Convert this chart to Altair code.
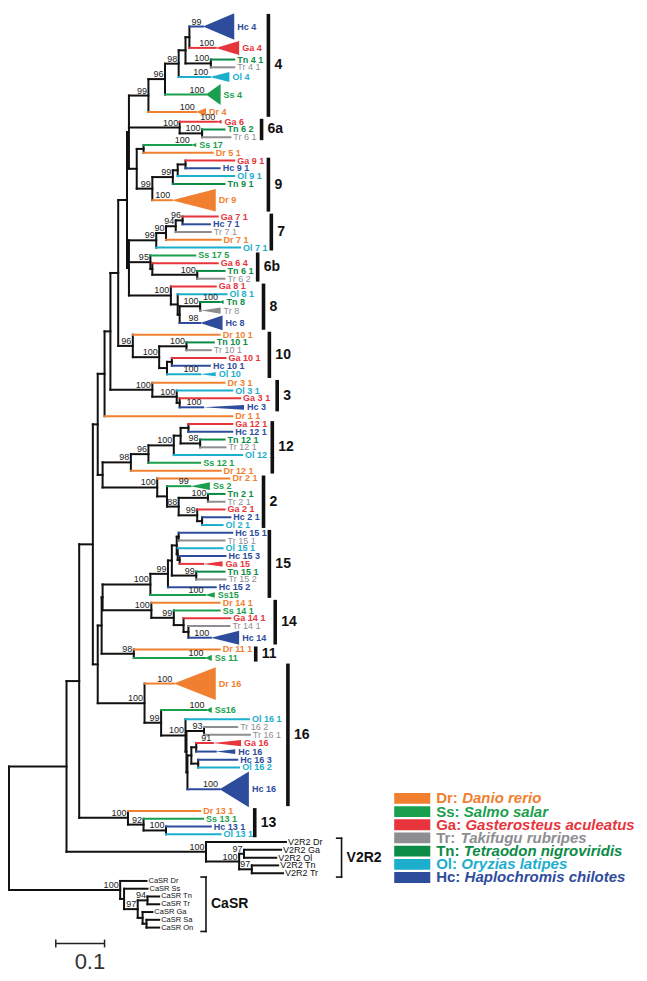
import altair as alt
import pandas as pd

# ---------------- tree data: Newick pieces (branch lengths in substitutions/site, node labels = bootstrap) -------------
clade4 = ("(((((Hc_4:0.028,Ga_4:0.054):0.008,(Tn_4_1:0.048,Tr_4_1:0.048)100:0.052):0.014,Ol_4:0.064)98:0.028,"
          "Ss_4:0.084)96:0.034,Dr_4:0.098)99:0.040")
clade6a = "(Ga_6:0.076,(Tn_6_2:0.046,Tr_6_1:0.058)100:0.046)100:0.104"
clade9 = ("((Ss_17:0.098,Dr_5_1:0.142):0.014,((((Ga_9_1:0.100,Hc_9_1:0.070):0.016,Ol_9_1:0.116):0.010,"
          "Tn_9_1:0.106)99:0.042,Dr_9:0.040)99:0.032):0.016")
clade7 = "((((Ga_7_1:0.072,Hc_7_1:0.056)96:0.014,Tr_7_1:0.072)94:0.020,Dr_7_1:0.112)90:0.020,Ol_7_1:0.172)99:0.056"
clade6b = "(Ss_17_5:0.092,(Ga_6_4:0.134,(Tn_6_1:0.056,Tr_6_2:0.056)100:0.092):0.004)95:0.044"
clade8 = "(Ga_8_1:0.092,(Ol_8_1:0.100,((Tn_8:0.040,Tr_8:0.002)100:0.042,Hc_8:0.042):0.004):0.014)100:0.086"
clade10 = ("(Dr_10_1:0.178,((Tn_10_1:0.056,Tr_10_1:0.050)100:0.056,((Ga_10_1:0.110,Hc_10_1:0.078):0.010,"
           "Ol_10:0.068):0.016)100:0.054)96:0.030")
clade3 = "(Dr_3_1:0.148,(Ol_3_1:0.114,(Ga_3_1:0.124,Hc_3:0.048):0.006)100:0.050)100:0.086"
clade12 = ("(((((Ga_12_1:0.090,Hc_12_1:0.090):0.016,(Tn_12_1:0.050,Tr_12_1:0.052)98:0.040):0.014,"
           "Ol_12_1:0.140)100:0.052,Ss_12_1:0.106)96:0.036,Dr_12_1:0.184)98:0.058")
clade2 = ("(Dr_2_1:0.148,(Ss_2:0.048,((Tn_2_1:0.034,Tr_2_1:0.034)100:0.060,(Ga_2_1:0.056,"
          "(Hc_2_1:0.058,Ol_2_1:0.042):0.010)99:0.038)88:0.024):0.020)100:0.112")
clade15 = ("(((((Hc_15_1:0.110,Tr_15_1:0.094):0.004,(Ol_15_1:0.092,(Hc_15_3:0.094,Ga_15:0.048):0.004):0.002):0.010,"
           "(Tn_15_1:0.058,Tr_15_2:0.060)99:0.050):0.008,Hc_15_2:0.098)99:0.036,Ss15:0.112)100:0.098")
clade14 = "(Dr_14_1:0.140,(Ss_14_1:0.094,(Ga_14_1:0.096,(Tr_14_1:0.084,Hc_14:0.046):0.010):0.020)99:0.046)100:0.100"
clade11 = "(Dr_11_1:0.176,Ss_11:0.146)98:0.066"
clade16 = ("(Dr_16:0.060,(Ss16:0.092,(Ol_16_1:0.130,((Tr_16_2:0.068,Tr_16_1:0.094)93:0.036,"
           "(((Ga_16:0.034,Hc_16#a:0.040):0.010,(Hc_16_3:0.080,Ol_16_2:0.084):0.014):0.008,"
           "Hc_16#b:0.066):0.002):0.002)100:0.050)99:0.034)100:0.096")
clade13 = "(Dr_13_1:0.148,(Ss_13_1:0.122,(Hc_13_1:0.092,Ol_13_1:0.112)100:0.046)92:0.032)100:0.100"
v2r2 = ("(V2R2_Dr:0.164,((V2R2_Ga:0.076,V2R2_Ol:0.066)97:0.010,(V2R2_Tn:0.054,V2R2_Tr:0.064)97:0.026)"
        "100:0.068)100:0.286")
casr = ("(CaSR_Dr:0.054,(CaSR_Ss:0.048,((CaSR_Tn:0.024,CaSR_Tr:0.024)94:0.020,(CaSR_Ga:0.020,"
        "(CaSR_Sa:0.026,CaSR_On:0.026):0.008):0.010)97:0.028):0.008)100:0.228")

upper = "(" + clade4 + "," + clade6a + "," + clade9 + "):0.004"
lower = "(" + clade7 + "," + clade6b + "," + clade8 + "):0.004"
node_T = "(" + upper + "," + lower + "):0.018"
node_S = "(" + node_T + "," + clade10 + "):0.016"
node_R = "(" + node_S + "," + clade3 + "):0.012"
node_Q = "(" + node_R + ",Dr_1_1:0.262):0.014"
node_97 = "(" + clade12 + "," + clade2 + "):0.010"
node_P = "(" + node_Q + "," + node_97 + "):0.010"
node_E = "((" + clade15 + "," + clade14 + "):0.002," + clade11 + "):0.008"
node_D = "(" + node_E + "," + clade16 + "):0.010"
node_C = "(" + node_P + "," + node_D + "):0.028"
node_B = "(" + node_C + "," + clade13 + "):0.026"
node_A = "(" + node_B + "," + v2r2 + "):0.118"
TREE = "(" + node_A + "," + casr + ");"

# collapsed clades: leaf -> (triangle depth, triangle height in rows, bootstrap)
collapsed = {
    "Hc_4": (0.064, 3.4, "99"), "Ga_4": (0.048, 1.8, "100"), "Ol_4": (0.040, 1.3, "100"),
    "Ss_4": (0.030, 2.7, "100"), "Dr_4": (0.020, 1.0, "100"), "Ga_6": (0.010, 0.5, "100"),
    "Ss_17": (0.010, 0.5, "100"), "Dr_9": (0.090, 2.9, "100"), "Tn_8": (0.008, 0.5, "100"),
    "Tr_8": (0.040, 0.8, ""), "Hc_8": (0.046, 1.9, "98"), "Ol_10": (0.032, 0.5, "100"),
    "Hc_3": (0.084, 0.6, "100"), "Ss_2": (0.040, 1.0, "99"), "Ga_15": (0.040, 0.7, ""),
    "Ss15": (0.020, 0.7, "100"), "Hc_14": (0.058, 1.8, "100"), "Ss_11": (0.014, 0.8, "100"),
    "Dr_16": (0.086, 4.2, "100"), "Ss16": (0.012, 0.8, "100"), "Ga_16": (0.058, 0.8, "91"),
    "Hc_16#a": (0.040, 0.6, ""), "Hc_16#b": (0.060, 4.6, "100"),
}
# rows occupied by each leaf (default 1)
spans = {"Hc_4": 3.5, "Ga_4": 2, "Ol_4": 1.5, "Ss_4": 3, "Dr_4": 1.5, "Dr_9": 3.2, "Tr_8": 1.2,
         "Hc_8": 2, "Ol_10": 1.2, "Hc_3": 1.3, "Hc_14": 2, "Ss_11": 1.2, "Dr_16": 5.4, "Ss16": 1.4,
         "Ga_16": 1.1, "Hc_16#a": 1.1, "Hc_16#b": 4.6}

species_codes = ["Dr", "Ss", "Ga", "Tr", "Tn", "Ol", "Hc"]
species_names = ["Danio rerio", "Salmo salar", "Gasterosteus aculeatus", "Takifugu rubripes",
                 "Tetraodon nigroviridis", "Oryzias latipes", "Haplochromis chilotes"]
species_colors = ["#F08030", "#1A9F4F", "#E8343C", "#8E8E92", "#0C8B47", "#1BAECD", "#2E4C9C"]

# clade bars: label, first leaf, last leaf, bar position (tree units)
clade_bars = [("4", "Hc_4", "Dr_4", 0.532), ("6a", "Ga_6", "Tr_6_1", 0.518), ("9", "Ga_9_1", "Dr_9", 0.532),
              ("7", "Ga_7_1", "Ol_7_1", 0.538), ("6b", "Ss_17_5", "Tr_6_2", 0.510), ("8", "Ga_8_1", "Hc_8", 0.522),
              ("10", "Dr_10_1", "Ol_10", 0.534), ("3", "Dr_3_1", "Hc_3", 0.550), ("12", "Ga_12_1", "Dr_12_1", 0.540),
              ("2", "Dr_2_1", "Ol_2_1", 0.522), ("15", "Hc_15_1", "Ss15", 0.534), ("14", "Dr_14_1", "Hc_14", 0.546),
              ("11", "Dr_11_1", "Ss_11", 0.506), ("16", "Dr_16", "Hc_16#b", 0.572), ("13", "Dr_13_1", "Ol_13_1", 0.504)]
brackets = [("V2R2", "V2R2_Dr", "V2R2_Tr", 0.682), ("CaSR", "CaSR_Dr", "CaSR_On", 0.404)]
scale_bar = 0.1

# ---------------- parse + layout ----------------
def parse_newick(s):
    i = 0

    def token():
        nonlocal i
        j = i
        while i < len(s) and s[i] not in ",():;":
            i += 1
        return s[j:i]

    def node():
        nonlocal i
        n = {"children": [], "name": None, "support": None, "bl": 0.0}
        if s[i] == "(":
            i += 1
            n["children"].append(node())
            while s[i] == ",":
                i += 1
                n["children"].append(node())
            i += 1
            lab = token()
            if lab:
                n["support"] = lab
        else:
            n["name"] = token()
        if i < len(s) and s[i] == ":":
            i += 1
            n["bl"] = float(token())
        return n

    return node()


root = parse_newick(TREE)
Y0, ROW = 5.0, 7.9
cursor = [0.0]
leaves = []


def layout(n, x0):
    n["x"] = x0 + n["bl"]
    if not n["children"]:
        sp = spans.get(n["name"], 1.0)
        n["top"] = Y0 + cursor[0] * ROW
        n["y"] = Y0 + (cursor[0] + sp / 2) * ROW
        cursor[0] += sp
        n["bottom"] = Y0 + cursor[0] * ROW
        leaves.append(n)
    else:
        for c in n["children"]:
            layout(c, n["x"])
        n["y"] = (n["children"][0]["y"] + n["children"][-1]["y"]) / 2


layout(root, 0.0)
leaf_by = {lf["name"]: lf for lf in leaves}
col_of = dict(zip(species_codes, species_colors))


def leaf_color(name):
    return col_of.get(name[:2], "#111111") if not name.startswith(("V2R2", "CaSR")) else "#111111"


def label_of(name):
    return name.split("#")[0].replace("_", " ")


seg, sup = [], []


def collect(n, parent):
    if parent is not None:
        c = leaf_color(n["name"]) if not n["children"] else "#111111"
        seg.append(dict(x=parent["x"], x2=n["x"], y=n["y"], y2=n["y"], c=c))
    if n["children"]:
        seg.append(dict(x=n["x"], x2=n["x"], y=n["children"][0]["y"], y2=n["children"][-1]["y"], c="#111111"))
        if n["support"]:
            sup.append(dict(x=n["x"], y=n["y"], t=n["support"]))
        for c in n["children"]:
            collect(c, n)


collect(root, None)

tri_rows, lab_bold, lab_norm, lab_v2, lab_ca = [], [], [], [], []
for lf in leaves:
    nm = lf["name"]
    tip = lf["x"]
    c = leaf_color(nm)
    if nm in collapsed:
        d, h, s = collapsed[nm]
        tri_rows.append(dict(id=nm, x=lf["x"], y=lf["y"], y2=lf["y"], c=c))
        tri_rows.append(dict(id=nm, x=lf["x"] + d, y=lf["y"] - h * ROW / 2, y2=lf["y"] + h * ROW / 2, c=c))
        tip = lf["x"] + d
        if s:
            sup.append(dict(x=lf["x"], y=lf["y"], t=s))
    row = dict(x=tip, y=lf["y"], t=label_of(nm), c=c)
    if nm.startswith("V2R2"):
        lab_v2.append(row)
    elif nm.startswith("CaSR"):
        lab_ca.append(row)
    elif nm.startswith("Tr_"):
        lab_norm.append(row)
    else:
        lab_bold.append(row)

bars, bar_labels = [], []
for lab, a, b, xu in clade_bars:
    y1, y2 = leaf_by[a]["top"] + 1, leaf_by[b]["bottom"] - 1
    bars.append(dict(x=xu, x2=xu, y=y1, y2=y2))
    bar_labels.append(dict(x=xu, y=(y1 + y2) / 2, t=lab))

brk, brk_labels = [], []
for lab, a, b, xu in brackets:
    y1, y2 = leaf_by[a]["top"], leaf_by[b]["bottom"]
    brk += [dict(x=xu, x2=xu, y=y1, y2=y2), dict(x=xu - 0.01, x2=xu, y=y1, y2=y1),
            dict(x=xu - 0.01, x2=xu, y=y2, y2=y2)]
    brk_labels.append(dict(x=xu, y=(y1 + y2) / 2, t=lab))

sb_x0, sb_y = 0.096, 951
sbar = [dict(x=sb_x0, x2=sb_x0 + scale_bar, y=sb_y, y2=sb_y),
        dict(x=sb_x0, x2=sb_x0, y=sb_y - 4, y2=sb_y + 4),
        dict(x=sb_x0 + scale_bar, x2=sb_x0 + scale_bar, y=sb_y - 4, y2=sb_y + 4)]
sb_text = [dict(x=sb_x0 + 0.07, y=970, t=str(scale_bar))]

# legend
LEG_FS = 15
bold_w = {"D": .722, "r": .389, ":": .333, "S": .667, "s": .556, "G": .778, "a": .556, "T": .611,
          "n": .611, "O": .778, "l": .278, "H": .722, "c": .556}
leg_sw, leg_pre, leg_name = [], [], []
for i, (code, nm, c) in enumerate(zip(species_codes, species_names, species_colors)):
    yy = 803.5 + 13.4 * i
    leg_sw.append(dict(x=0.790, x2=0.864, y=yy - 5.5, y2=yy + 5.5, c=c))
    leg_pre.append(dict(x=0.876, y=yy, t=code + ":", c=c))
    w = sum(bold_w[ch] for ch in code + ":") * LEG_FS
    leg_name.append(dict(x=0.876 + (w + 5) / 500, y=yy, t=nm, c=c))

# ---------------- chart ----------------
xs = alt.Scale(domain=[-0.002, 1.292], range=[0, 631], nice=False, zero=False)
ys = alt.Scale(domain=[0, 981], range=[0, 965], nice=False, zero=False)
FONT = "Liberation Sans"


def X():
    return alt.X("x:Q", scale=xs, axis=None)


def Y():
    return alt.Y("y:Q", scale=ys, axis=None, stack=None)


def rules(rows, **kw):
    df = pd.DataFrame(rows)
    enc = dict(x=X(), x2="x2:Q", y=Y(), y2="y2:Q")
    if "c" in df.columns:
        enc["color"] = alt.Color("c:N", scale=None)
    return alt.Chart(df).mark_rule(**kw).encode(**enc)


def texts(rows, **kw):
    df = pd.DataFrame(rows)
    enc = dict(x=X(), y=Y(), text="t:N")
    if "c" in df.columns:
        enc["color"] = alt.Color("c:N", scale=None)
    return alt.Chart(df).mark_text(font=FONT, **kw).encode(**enc)


layers = [
    rules(seg, strokeWidth=2, strokeCap="square"),
    alt.Chart(pd.DataFrame(tri_rows)).mark_area(interpolate="linear", opacity=1).encode(
        x=X(), y=Y(), y2="y2:Q", detail="id:N", color=alt.Color("c:N", scale=None)),
    texts(lab_bold, align="left", baseline="middle", dx=3, fontSize=9, fontWeight="bold"),
    texts(lab_norm, align="left", baseline="middle", dx=3, fontSize=9),
    texts(lab_v2, align="left", baseline="middle", dx=2, fontSize=9, color="#111"),
    texts(lab_ca, align="left", baseline="middle", dx=2, fontSize=7.5, color="#111"),
    texts(sup, align="right", baseline="alphabetic", dx=-1.5, dy=-2, fontSize=9, color="#222"),
    rules(bars, strokeWidth=3.6, color="#111"),
    texts(bar_labels, align="left", baseline="middle", dx=6, fontSize=14, fontWeight="bold", color="#111"),
    rules(brk, strokeWidth=1.6, color="#111", strokeCap="square"),
    texts(brk_labels, align="left", baseline="middle", dx=5, fontSize=14, fontWeight="bold", color="#111"),
    rules(sbar, strokeWidth=1.5, color="#222"),
    texts(sb_text, align="center", baseline="middle", fontSize=22, color="#333"),
    alt.Chart(pd.DataFrame(leg_sw)).mark_rect().encode(
        x=X(), x2="x2:Q", y=Y(), y2="y2:Q", color=alt.Color("c:N", scale=None)),
    texts(leg_pre, align="left", baseline="middle", fontSize=LEG_FS, fontWeight="bold"),
    texts(leg_name, align="left", baseline="middle", fontSize=LEG_FS, fontWeight="bold", fontStyle="italic"),
]

chart = alt.layer(*layers).properties(
    width=631, height=965, padding=0, autosize=alt.AutoSizeParams(type="none")
).configure_view(strokeWidth=0)

chart.save("out.html", embed_options={"renderer": "svg", "actions": False})
